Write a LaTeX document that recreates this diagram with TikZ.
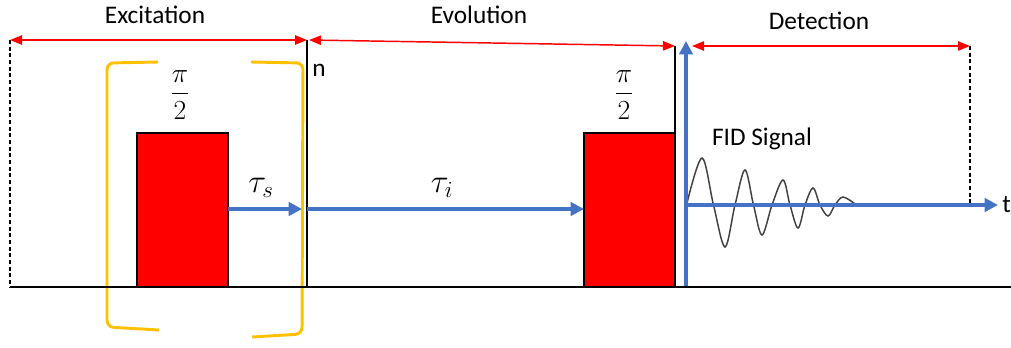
\documentclass[tikz,border=0pt]{standalone}
\usepackage{fontspec}
\usepackage{amsmath}
\setmainfont{Carlito}
\usetikzlibrary{arrows.meta}
\definecolor{oblue}{RGB}{68,114,196}
\definecolor{ogold}{RGB}{255,192,0}
\definecolor{fidgray}{RGB}{64,64,64}
\begin{document}
\begin{tikzpicture}[x=0.75pt,y=-0.75pt,
  font=\fontsize{19}{23}\selectfont,
  pulse/.style={draw=black, line width=0.8pt, fill=red, inner sep=0pt, outer sep=0pt, anchor=south west, minimum width=68.25pt, minimum height=115.5pt},
  span/.style={draw=red, line width=1.1pt, {Triangle[length=9pt,width=7pt]}-{Triangle[length=9pt,width=7pt]}},
  barrow/.style={draw=oblue, line width=2.6pt, -{Triangle[length=10pt,width=10pt]}},
  bracket/.style={draw=ogold, line width=2.2pt, rounded corners=5pt},
  marker/.style={draw=black, line width=1.1pt},
  dashmark/.style={draw=black, line width=1pt, dashed, dash pattern=on 3pt off 2pt},
  fid/.style={draw=fidgray, line width=1.1pt},
  lbl/.style={anchor=base, inner sep=0pt},
  mathlbl/.style={font=\fontsize{22}{26}\selectfont, inner sep=0pt},
  taulbl/.style={font=\fontsize{25}{29}\selectfont, inner sep=0pt}
]
\useasboundingbox (0,0) rectangle (1011,347);

% pulses
\node[pulse] (p1) at (137,287) {};
\node[pulse] (p2) at (584,287) {};

% yellow brackets
\draw[bracket] (158,62) -- (107,63) -- (107,327) -- (159,330);
\draw[bracket] (251,62) -- (303,63) -- (302,334) -- (252,337);

% coordinates
\coordinate (bl) at (10,287);
\coordinate (br) at (1011,287);
\coordinate (dl) at (10,40);
\coordinate (m1t) at (307,40);
\coordinate (m1b) at (307,287);
\coordinate (m2t) at (675,46);
\coordinate (m2b) at (675,287);
\coordinate (e1) at (309,40);
\coordinate (d0) at (692,46);
\coordinate (d1) at (970,46);
\coordinate (d1b) at (970,205);
\coordinate (yb) at (686,287);
\coordinate (yt) at (686,41);
\coordinate (x0) at (686,205);
\coordinate (x1) at (998,205);
\coordinate (ts0) at (228,209);
\coordinate (ts1) at (302,209);
\coordinate (ti0) at (307,209);
\coordinate (ti1) at (584,209);

% vertical markers
\draw[dashmark] (dl) -- (bl);
\draw[dashmark] (d1) -- (d1b);
\draw[marker] (m1t) -- (m1b);
\draw[marker] (m2t) -- (m2b);

% spans
\draw[span] (dl) -- (m1t);
\draw[span] (e1) -- (m2t);
\draw[span] (d0) -- (d1);

% delays
\draw[barrow] (ts0) -- (ts1);
\draw[barrow] (ti0) -- (ti1);

% FID
\draw[fid] plot[smooth, tension=0.55] coordinates {(687,203) (702,158) (713.5,205) (725,247) (735,205) (745,170) (753.5,205) (762,235) (772,205) (783,180) (790,205) (798,228) (805,205) (813,188) (820,205) (828,216) (835,205) (843,197) (855,204)};

% axes
\draw[barrow] (yb) -- (yt);
\draw[barrow] (x0) -- (x1);

% baseline
\draw[draw=black, line width=2.2pt] (bl) -- (br);

% labels
\node[lbl] (lexc) at (155,23) {Excitation};
\node[lbl] (levo) at (479,23) {Evolution};
\node[lbl] (ldet) at (819,29) {Detection};
\node[lbl] (lfid) at (762,145) {FID Signal};
\node[lbl, anchor=base west] (ln) at (312,76) {n};
\node[inner sep=0pt, anchor=west] (lt) at (1002,205) {t};
\node[mathlbl] (f1) at (180,95) {$\dfrac{\pi}{2}$};
\node[mathlbl] (f2) at (624,95) {$\dfrac{\pi}{2}$};
\node[taulbl] (lts) at (261,188) {$\tau_s$};
\node[taulbl] (lti) at (442,188) {$\tau_i$};
\end{tikzpicture}
\end{document}
